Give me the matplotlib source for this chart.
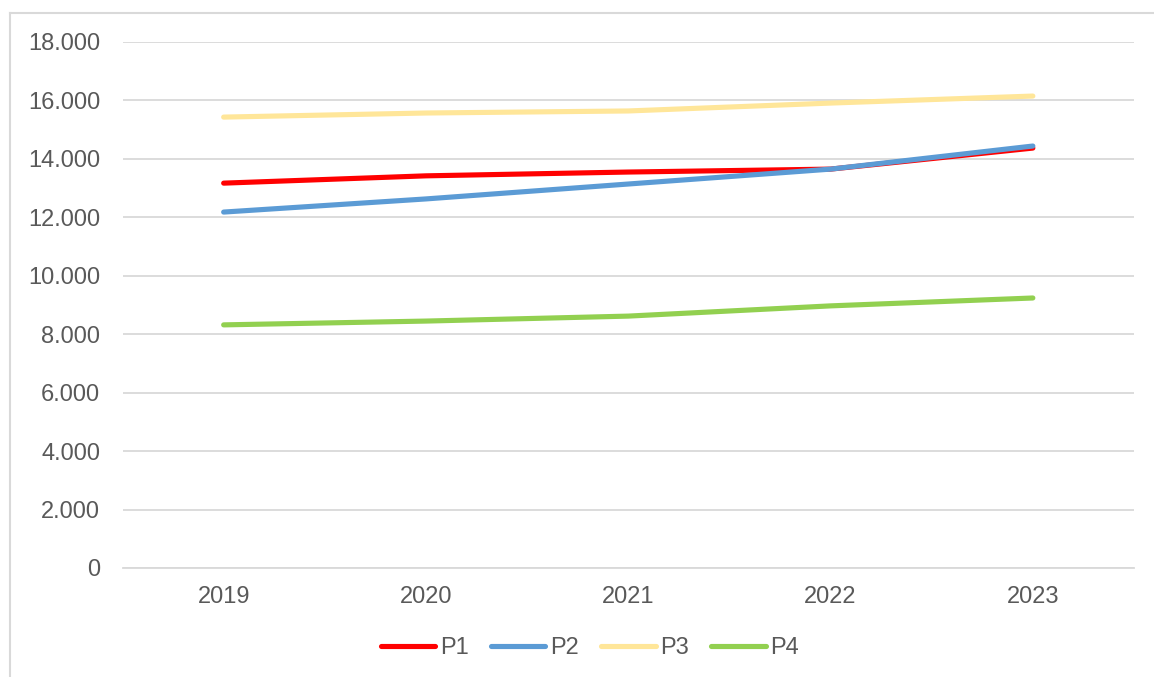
import matplotlib
matplotlib.use("Agg")
import matplotlib.pyplot as plt
from matplotlib.lines import Line2D
from matplotlib.ticker import FuncFormatter

years = ["2019", "2020", "2021", "2022", "2023"]
p1 = [13170, 13420, 13550, 13650, 14370]
p2 = [12180, 12630, 13140, 13650, 14440]
p3 = [15430, 15570, 15640, 15910, 16150]
p4 = [8320, 8450, 8620, 8970, 9240]
series_names = ["P1", "P2", "P3", "P4"]
series_colors = ["#FF0000", "#5B9BD5", "#FFE699", "#92D050"]
y_ticks = [0, 2000, 4000, 6000, 8000, 10000, 12000, 14000, 16000, 18000]

plt.rcParams['font.family'] = ['Liberation Sans', 'DejaVu Sans']

fig = plt.figure(figsize=(11.54, 6.77), dpi=100)
W, H = 1154, 677
ax = fig.add_axes([122.5 / W, 1 - 568 / H, (1134 - 122.5) / W, (568 - 42) / H])

x = list(range(len(years)))
for vals, name, col in zip([p1, p2, p3, p4], series_names, series_colors):
    ax.plot(x, vals, color=col, lw=3.7, solid_capstyle='round', label=name, zorder=3)

ax.set_xlim(-0.5, 4.5)
ax.set_ylim(0, 18000)
ax.set_yticks(y_ticks)
ax.yaxis.set_major_formatter(FuncFormatter(lambda v, p: f"{int(v):,}".replace(",", ".")))
ax.set_xticks(x)
ax.set_xticklabels(years)
ax.grid(axis='y', color='#D9D9D9', lw=1.3, zorder=0)
for s in ['top', 'right', 'left']:
    ax.spines[s].set_visible(False)
ax.spines['bottom'].set_color('#D9D9D9')
ax.spines['bottom'].set_linewidth(1.3)
ax.tick_params(axis='both', length=0, labelsize=17, labelcolor='#595959')
ax.tick_params(axis='y', pad=16)
ax.tick_params(axis='x', pad=13)

leg = fig.legend(loc='center', bbox_to_anchor=(590 / W, 1 - 648 / H), ncol=4, frameon=False,
                 fontsize=17, handlelength=2.3, handletextpad=0.2, columnspacing=0.95,
                 labelcolor='#595959')

# outer chart border (top and left visible)
fig.add_artist(Line2D([10 / W, 1.0], [1 - 13 / H, 1 - 13 / H], transform=fig.transFigure, color='#D9D9D9', lw=1.5))
fig.add_artist(Line2D([10 / W, 10 / W], [1 - 13 / H, 0], transform=fig.transFigure, color='#D9D9D9', lw=1.5))

fig.savefig("out.png", dpi=100)
